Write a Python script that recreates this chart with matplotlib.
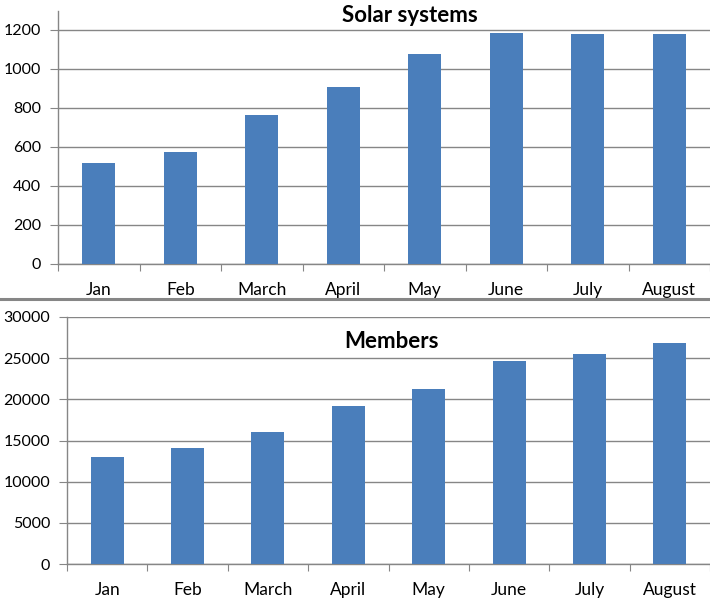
import matplotlib.pyplot as plt
from matplotlib.lines import Line2D

months = ["Jan", "Feb", "March", "April", "May", "June", "July", "August"]
solar = [520, 575, 765, 905, 1075, 1185, 1180, 1180]
members = [13000, 14100, 16000, 19200, 21300, 24700, 25500, 26800]

plt.rcParams["font.family"] = ["Lato", "DejaVu Sans"]
plt.rcParams["font.size"] = 11.5

bar_color = "#4a7ebb"
gray = "#868686"

fig = plt.figure(figsize=(7.1, 6.0), dpi=100)


def draw(ax, values, ymax, step):
    x = list(range(len(values)))
    ax.bar(x, values, width=0.41, color=bar_color, zorder=3)
    ax.set_xlim(-0.5, len(values) - 0.5)
    ax.set_ylim(0, ymax)
    ax.set_yticks(range(0, ymax + 1, step) if ymax % step == 0 else range(0, ymax, step))
    ax.yaxis.grid(True, color=gray, linewidth=1)
    ax.set_xticks([i - 0.5 for i in range(len(values) + 1)])
    ax.set_xticklabels([])
    ax.set_xticks(x, minor=True)
    ax.set_xticklabels(months, minor=True, fontsize=12.5)
    ax.tick_params(axis="x", which="major", length=5, color=gray, direction="out")
    ax.tick_params(axis="x", which="minor", length=0, pad=13)
    ax.tick_params(axis="y", length=6, color=gray, pad=6)
    for s in ["top", "right"]:
        ax.spines[s].set_visible(False)
    for s in ["left", "bottom"]:
        ax.spines[s].set_color(gray)
        ax.spines[s].set_linewidth(1)


ax1 = fig.add_axes([58 / 710, 1 - 264 / 600, 1 - 58 / 710, 253 / 600])
draw(ax1, solar, 1297, 200)
fig.text(410 / 710, 1 - 16 / 600, "Solar systems", ha="center", va="center",
         fontsize=16, fontweight="bold")

ax2 = fig.add_axes([67 / 710, 1 - 564 / 600, 1 - 67 / 710, 247 / 600])
draw(ax2, members, 30000, 5000)
fig.text(391 / 710, 1 - 341 / 600, "Members", ha="center", va="center",
         fontsize=16, fontweight="bold")

fig.add_artist(Line2D([0, 1], [1 - 299 / 600, 1 - 299 / 600], color=gray,
                      linewidth=2.2, transform=fig.transFigure))

fig.savefig("out.png", dpi=100)
